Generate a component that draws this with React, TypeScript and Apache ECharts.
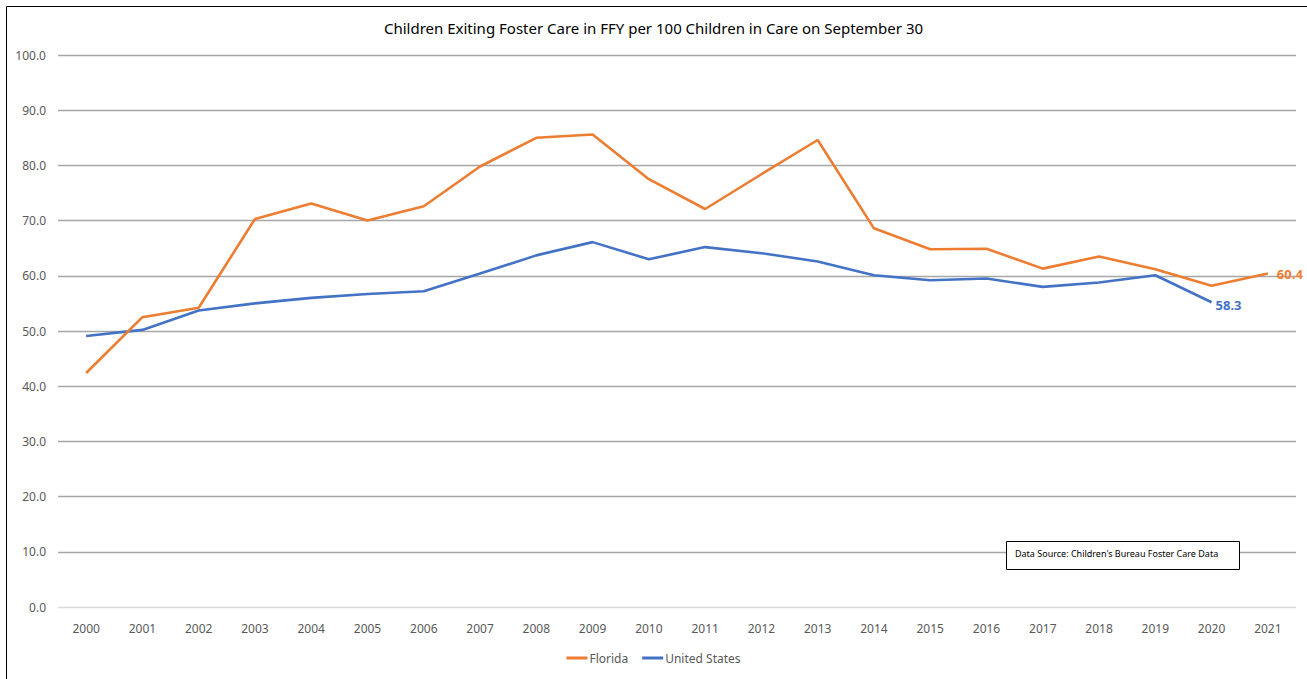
import React, { useEffect, useRef } from "react";
import * as echarts from "echarts";

const years = ["2000","2001","2002","2003","2004","2005","2006","2007","2008","2009","2010","2011","2012","2013","2014","2015","2016","2017","2018","2019","2020","2021"];
const florida = [42.4, 52.5, 54.2, 70.3, 73.1, 70.0, 72.6, 79.8, 85.0, 85.6, 77.5, 72.1, 78.4, 84.6, 68.6, 64.8, 64.9, 61.3, 63.5, 61.2, 58.2, 60.4];
const unitedStates: (number | null)[] = [49.1, 50.2, 53.7, 55.0, 56.0, 56.7, 57.2, 60.4, 63.7, 66.1, 63.0, 65.2, 64.1, 62.6, 60.1, 59.2, 59.5, 58.0, 58.8, 60.1, 55.2, null];
const floridaEndLabel = "60.4";
const usEndLabel = "58.3";
const titleText = "Children Exiting Foster Care in FFY per 100 Children in Care on September 30";
const sourceText = "Data Source: Children's Bureau Foster Care Data";

const FONT = "'Noto Sans', 'Open Sans', sans-serif";
const ORANGE = "#ED7D31";
const BLUE = "#4472C4";

export default function App() {
  const ref = useRef<HTMLDivElement>(null);
  useEffect(() => {
    document.body.style.margin = "0";
    const chart = echarts.init(ref.current!, null, { renderer: "svg" });
    chart.setOption({
      animation: false,
      backgroundColor: "#ffffff",
      textStyle: { fontFamily: FONT },
      title: {
        text: titleText,
        left: "center",
        top: 15,
        textStyle: { fontFamily: FONT, fontSize: 15, fontWeight: "normal", color: "#000" },
      },
      grid: { left: 58, right: 11, top: 55, bottom: 72, containLabel: false, outerBoundsMode: "none" },
      legend: {
        bottom: 10,
        left: "center",
        itemWidth: 21,
        itemHeight: 3,
        itemGap: 14,
        icon: "rect",
        textStyle: { fontFamily: FONT, fontSize: 12, color: "#595959", padding: [0, 0, 0, -3] },
        data: ["Florida", "United States"],
      },
      xAxis: {
        type: "category",
        data: years,
        boundaryGap: true,
        axisLine: { show: false },
        axisTick: { show: false },
        axisLabel: { fontFamily: FONT, fontSize: 12, color: "#595959", margin: 15 },
      },
      yAxis: {
        type: "value",
        min: 0,
        max: 100,
        interval: 10,
        axisLine: { show: false },
        axisTick: { show: false },
        axisLabel: { fontFamily: FONT, fontSize: 12, color: "#595959", margin: 12, formatter: (v: number) => v.toFixed(1) },
        splitLine: {
          lineStyle: {
            color: ["#d9d9d9", "#a6a6a6", "#a6a6a6", "#a6a6a6", "#a6a6a6", "#a6a6a6", "#a6a6a6", "#a6a6a6", "#a6a6a6", "#a6a6a6", "#a6a6a6"],
            width: 1.3,
          },
        },
      },
      series: [
        {
          name: "Florida",
          type: "line",
          data: florida,
          symbol: "none",
          lineStyle: { color: ORANGE, width: 2.6 },
          itemStyle: { color: ORANGE },
          endLabel: {
            show: true,
            formatter: floridaEndLabel,
            distance: 9,
            fontFamily: FONT,
            fontSize: 13,
            fontWeight: "bold",
            color: ORANGE,
          },
          z: 3,
        },
        {
          name: "United States",
          type: "line",
          data: unitedStates,
          symbol: "none",
          lineStyle: { color: BLUE, width: 2.6 },
          itemStyle: { color: BLUE },
          endLabel: {
            show: true,
            formatter: usEndLabel,
            distance: 4,
            offset: [0, 3],
            fontFamily: FONT,
            fontSize: 13,
            fontWeight: "bold",
            color: BLUE,
          },
          z: 2,
        },
      ],
      graphic: [
        {
          type: "rect",
          left: 4,
          top: 4,
          shape: { x: 0, y: 0, width: 1320, height: 700 },
          style: { fill: "none", stroke: "#000", lineWidth: 1 },
          silent: true,
          z: 100,
        },
        {
          type: "rect",
          left: 1006,
          top: 541,
          z: 50,
          shape: { x: 0, y: 0, width: 233, height: 28 },
          style: { fill: "#fff", stroke: "#000", lineWidth: 1 },
        },
        {
          type: "text",
          left: 1015,
          top: 549,
          z: 51,
          style: { text: sourceText, fontFamily: FONT, fontSize: 9, fill: "#000" },
        },
      ],
    });
    return () => chart.dispose();
  }, []);
  return <div ref={ref} style={{ width: 1307, height: 679 }} />;
}
